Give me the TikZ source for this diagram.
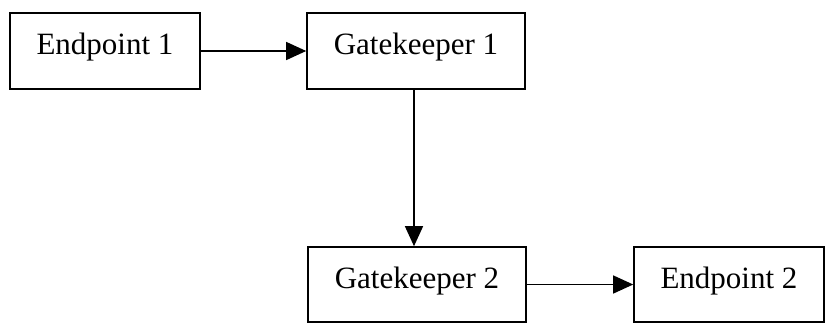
\documentclass[tikz,border=0pt]{standalone}
\usepackage{fontspec}
\setmainfont{Liberation Serif}
\usetikzlibrary{arrows.meta}
\begin{document}
\begin{tikzpicture}[x=1pt,y=-1pt,
  box/.style={draw, line width=1.6pt, rectangle, inner sep=0pt,
    font=\fontsize{31}{37}\selectfont, text height=22pt, text depth=15pt},
  conn/.style={line width=1.3pt, -{Triangle[length=20pt,width=18pt]}}]
\useasboundingbox (0,0) rectangle (827,324);
\node[box, minimum width=190pt, minimum height=76pt] (e1) at (105,51) {Endpoint 1};
\node[box, minimum width=218pt, minimum height=76pt] (g1) at (416,51) {Gatekeeper 1};
\node[box, minimum width=218pt, minimum height=75pt] (g2) at (417,284.5) {Gatekeeper 2};
\node[box, minimum width=190pt, minimum height=75pt] (e2) at (729,284.5) {Endpoint 2};
\draw[conn] (e1.east) -- (g1.west);
\draw[conn] ([xshift=-2pt]g1.south) -- ([xshift=-3pt]g2.north);
\draw[conn] (g2.east) -- (e2.west);
\end{tikzpicture}
\end{document}
